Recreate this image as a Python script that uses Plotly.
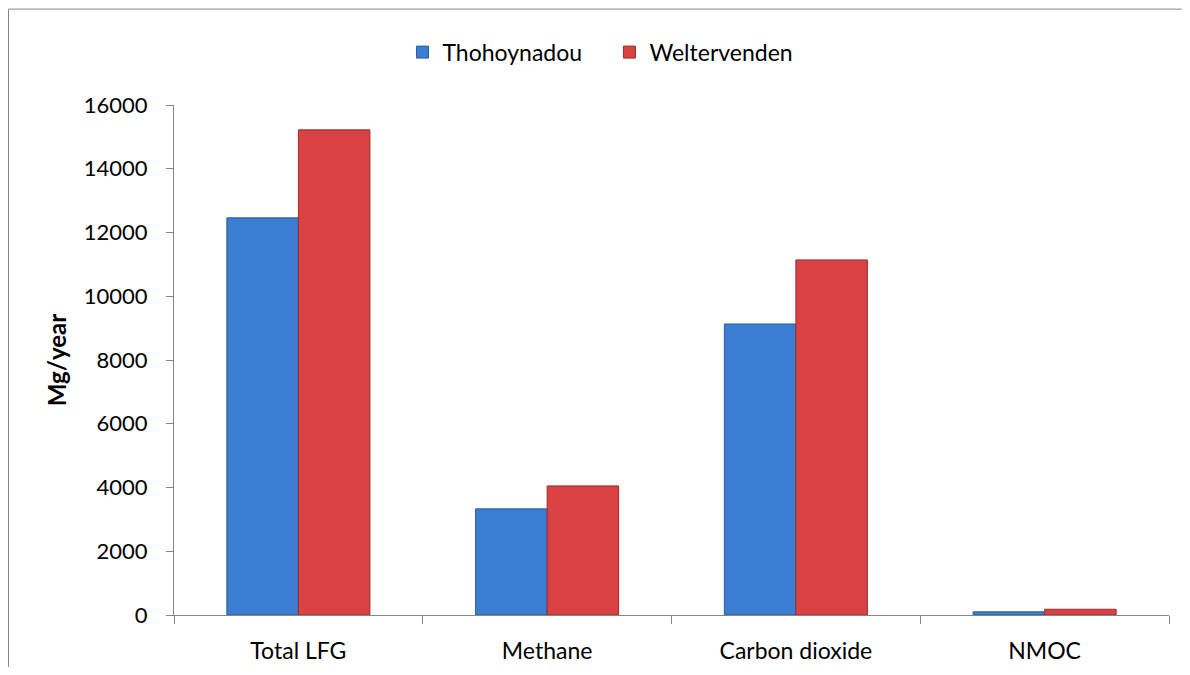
import plotly.graph_objects as go

categorias = ['Total LFG', 'Methane', 'Carbon dioxide', 'NMOC']
thohoyandou = [12460, 3330, 9130, 100]
weltervenden = [15220, 4050, 11140, 180]
y_ticks = [0, 2000, 4000, 6000, 8000, 10000, 12000, 14000, 16000]
y_labels = [str(v) for v in y_ticks]

FUENTE = 'Lato'
GRIS = '#868686'

fig = go.Figure()
fig.add_trace(go.Bar(
    name='Thohoynadou',
    x=categorias,
    y=thohoyandou,
    marker=dict(color='#3b7dd0', line=dict(color='#2b5c9c', width=1)),
))
fig.add_trace(go.Bar(
    name='Weltervenden',
    x=categorias,
    y=weltervenden,
    marker=dict(color='#d84242', line=dict(color='#9c2c2c', width=1)),
))

# la página tiene 8px de margen en el body, por eso la figura es 16px más pequeña
fig.update_layout(
    width=1174,
    height=659,
    barmode='group',
    bargap=0.425,
    bargroupgap=0,
    margin=dict(l=166, r=13, t=97, b=52),
    plot_bgcolor='white',
    paper_bgcolor='white',
    font=dict(family=FUENTE, size=23, color='black'),
    legend=dict(
        orientation='h',
        xref='container', yref='container',
        x=0.336, y=0.933, xanchor='left', yanchor='middle',
        font=dict(size=23),
        itemwidth=30,
        entrywidth=162,
    ),
    # marco exterior del gráfico (solo se ven los bordes izquierdo y superior)
    shapes=[dict(
        type='rect', xref='paper', yref='paper',
        x0=-0.1663, x1=1.03, y0=-0.14, y1=1.188,
        line=dict(color=GRIS, width=1),
    )],
)
fig.update_xaxes(
    showline=True, linecolor=GRIS, linewidth=1,
    ticks='outside', tickson='boundaries', ticklen=8, tickcolor=GRIS,
    showgrid=False, tickfont=dict(size=23), ticklabelstandoff=15,
    automargin=False,
)
fig.update_yaxes(
    title=dict(text='<b>Mg/year</b>', font=dict(size=24), standoff=10),
    range=[0, 16000], tickvals=y_ticks, ticktext=y_labels,
    showline=True, linecolor=GRIS, linewidth=1,
    ticks='outside', ticklen=7, tickcolor=GRIS,
    showgrid=False, zeroline=False, tickfont=dict(size=22),
    ticklabelstandoff=14,
)

fig.write_html('out.html')
